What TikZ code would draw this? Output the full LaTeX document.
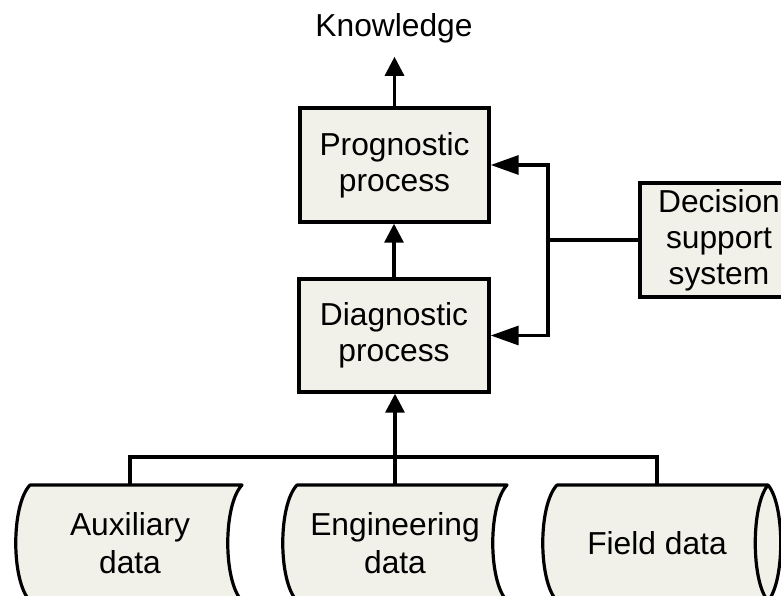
\documentclass[tikz,border=0pt]{standalone}
\usepackage{fontspec}
\setmainfont{Liberation Sans}
\usetikzlibrary{arrows.meta}
\definecolor{boxfill}{RGB}{241,241,234}
\begin{document}
\begin{tikzpicture}[x=1pt,y=-1pt,
  lbl/.style={font=\fontsize{31.75}{36}\selectfont, align=center, inner sep=0pt},
  procbox/.style={lbl, draw, line width=3.4pt, fill=boxfill, minimum width=189pt, minimum height=114pt},
  datanode/.style={lbl, font=\fontsize{31.75}{38}\selectfont, minimum height=116pt},
  shapeline/.style={draw, line width=3.2pt, fill=boxfill, line join=round},
  conn/.style={line width=3.2pt},
  varr/.style={conn, -{Triangle[length=19pt,width=19pt]}},
  harr/.style={conn, -{Triangle[length=28pt,width=19pt]}},
]
\useasboundingbox (0,0) rectangle (781,596);
\clip (0,0) rectangle (781,596);

% stored data shapes
\path[shapeline] (30,485) -- (242,485) .. controls (223,505) and (223,581) .. (242,601)
  -- (30,601) .. controls (11,581) and (11,505) .. (30,485) -- cycle;
\path[shapeline] (297,485) -- (507,485) .. controls (488,505) and (488,581) .. (507,601)
  -- (297,601) .. controls (278,581) and (278,505) .. (297,485) -- cycle;
\path[shapeline] (557,485) -- (768,485) .. controls (785,505) and (785,581) .. (768,601)
  -- (557,601) .. controls (538,581) and (538,505) .. (557,485) -- cycle;
\draw[line width=3.2pt] (768,485) .. controls (751,505) and (751,581) .. (768,601);

% nodes
\node[datanode] (aux) at (130,543) {Auxiliary\\data};
\node[datanode] (eng) at (395,543) {Engineering\\data};
\node[datanode] (field) at (657,543) {Field data};

\node[procbox] (prog) at (394.5,165) {Prognostic\\process};
\node[procbox, minimum width=190pt, minimum height=113pt] (diag) at (394,335.5) {Diagnostic\\process};
\node[procbox, minimum width=158pt] (dss) at (719,240) {Decision\\support\\system};
\node[lbl, anchor=base] (know) at (394,37) {Knowledge};

\coordinate (bus) at (395,457);
\coordinate (j) at (548,240);

% connectors
\draw[conn] (aux.north) -- (aux.north |- bus) -- (field.north |- bus) -- (field.north);
\draw[varr] (eng.north) -- (eng.north |- diag.south);
\draw[varr] (diag.north) -- (diag.north |- prog.south);
\draw[varr, shorten >=13pt] (prog.north) -- (prog.north |- know.south);
\draw[conn] (dss.west) -- (j);
\draw[harr] (j) |- (prog.east);
\draw[harr] (j) |- (diag.east);
\end{tikzpicture}
\end{document}
